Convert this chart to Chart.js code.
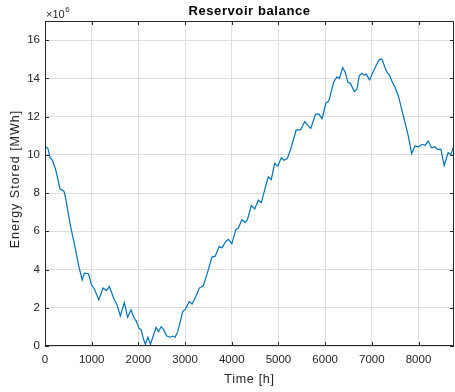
<!DOCTYPE html>
<html>
<head>
<meta charset="utf-8">
<script src="https://cdn.jsdelivr.net/npm/chart.js@4.4.1/dist/chart.umd.min.js"></script>
<style>
  html, body { margin: 0; padding: 0; background: #ffffff; }
  #wrap { width: 455px; height: 392px; }
</style>
</head>
<body>
<div id="wrap"><canvas id="c" width="455" height="392"></canvas></div>
<script>
// Hourly reservoir simulation, sampled at the turning points of the curve
const hours = [
  0, 40, 64, 107, 156, 228, 277, 320, 405, 441, 548, 654, 725, 796, 846, 932, 995,
  1060, 1151, 1244, 1315, 1379, 1471, 1542, 1613, 1699, 1770, 1841, 1912, 1955,
  2012, 2061, 2111, 2150, 2203, 2260, 2320, 2381, 2431, 2488, 2537, 2608, 2680,
  2736, 2787, 2843, 2900, 2950, 3006, 3092, 3150, 3234, 3305, 3390, 3482, 3576,
  3646, 3731, 3789, 3874, 3930, 4002, 4087, 4143, 4215, 4286, 4335, 4420, 4492,
  4569, 4633, 4727, 4783, 4847, 4919, 4989, 5060, 5117, 5188, 5260, 5380, 5473,
  5565, 5636, 5693, 5793, 5864, 5934, 6019, 6077, 6183, 6254, 6305, 6375, 6432,
  6489, 6539, 6624, 6681, 6731, 6787, 6838, 6880, 6951, 7036, 7107, 7158, 7214,
  7271, 7320, 7377, 7426, 7498, 7569, 7640, 7711, 7782, 7853, 7925, 7996, 8081,
  8138, 8209, 8280, 8351, 8408, 8479, 8550, 8635, 8692, 8760
];

// Stored energy in units of 10^6 MWh
const energy = [
  10.42, 10.38, 10.32, 9.85, 9.72, 9.23, 8.71, 8.22, 8.10, 7.75, 6.26, 5.04, 4.16, 3.46, 3.81, 3.78, 3.20,
  2.97, 2.41, 3.03, 2.90, 3.11, 2.50, 2.15, 1.57, 2.27, 1.50, 1.89, 1.45, 1.30,
  0.93, 0.84, 0.35, 0.08, 0.46, 0.09, 0.55, 0.98, 0.75, 1.01, 0.87, 0.52, 0.46,
  0.52, 0.46, 0.75, 1.30, 1.80, 1.93, 2.32, 2.20, 2.60, 3.03, 3.15, 3.85, 4.65,
  4.70, 5.21, 5.13, 5.47, 5.58, 5.35, 6.09, 6.17, 6.61, 6.47, 6.61, 7.35, 7.17,
  7.62, 7.49, 8.36, 8.85, 8.71, 9.55, 9.41, 9.85, 9.72, 9.80, 10.28, 11.30, 11.30,
  11.74, 11.51, 11.38, 12.12, 12.14, 11.89, 12.73, 12.80, 13.81, 14.08, 13.99, 14.57, 14.31,
  13.78, 13.75, 13.31, 13.43, 14.13, 14.27, 14.17, 14.22, 13.92, 14.39, 14.74, 14.97, 15.01,
  14.65, 14.34, 14.17, 13.87, 13.52, 13.08, 12.38, 11.68, 10.98, 10.07, 10.46, 10.42, 10.55,
  10.49, 10.72, 10.37, 10.42, 10.28, 10.28, 9.44, 10.11, 10.02, 10.46
];

const xTicks = [0, 1000, 2000, 3000, 4000, 5000, 6000, 7000, 8000];
const yTicks = [0, 2, 4, 6, 8, 10, 12, 14, 16];

const titleText = 'Reservoir balance';
const xLabel = 'Time [h]';
const yLabel = 'Energy Stored [MWh]';
const expBase = '\u00d710';
const expPower = '6';

const FONT = '"Liberation Sans", Arial, Helvetica, sans-serif';
const AXIS = '#262626';
const GRID = '#dfdfdf';
const LINE = '#0072BD';
const TICK_LEN = 4;

// Box around the axes with inward ticks, plus title and axis labels
const axesDecor = {
  id: 'axesDecor',
  afterDatasetsDraw(chart) {
    const { ctx, chartArea: a, scales } = chart;
    ctx.save();
    ctx.strokeStyle = AXIS;
    ctx.lineWidth = 1;
    ctx.beginPath();
    ctx.rect(a.left + 0.5, a.top + 0.5, a.right - a.left - 1, a.bottom - a.top - 1);
    xTicks.forEach(v => {
      const px = Math.round(scales.x.getPixelForValue(v)) + 0.5;
      ctx.moveTo(px, a.bottom); ctx.lineTo(px, a.bottom - TICK_LEN);
      ctx.moveTo(px, a.top); ctx.lineTo(px, a.top + TICK_LEN);
    });
    yTicks.forEach(v => {
      const py = Math.round(scales.y.getPixelForValue(v)) + 0.5;
      ctx.moveTo(a.left, py); ctx.lineTo(a.left + TICK_LEN, py);
      ctx.moveTo(a.right, py); ctx.lineTo(a.right - TICK_LEN, py);
    });
    ctx.stroke();

    const cx = (a.left + a.right) / 2;

    ctx.fillStyle = '#000000';
    ctx.font = 'bold 13px ' + FONT;
    ctx.letterSpacing = '0.6px';
    ctx.textAlign = 'center';
    ctx.textBaseline = 'alphabetic';
    ctx.fillText(titleText, cx, 15);

    ctx.fillStyle = AXIS;
    ctx.font = '12.5px ' + FONT;
    ctx.letterSpacing = '0.7px';
    ctx.fillText(xLabel, cx, 383);

    ctx.letterSpacing = '0px';
    ctx.textAlign = 'left';
    ctx.font = '11px ' + FONT;
    ctx.fillText(expBase, a.left + 1, 18);
    const w = ctx.measureText(expBase).width;
    ctx.font = '8px ' + FONT;
    ctx.fillText(expPower, a.left + 1 + w + 0.5, 12);

    ctx.translate(16, 179);
    ctx.rotate(-Math.PI / 2);
    ctx.textAlign = 'center';
    ctx.textBaseline = 'middle';
    ctx.font = '12.5px ' + FONT;
    ctx.letterSpacing = '1px';
    ctx.fillText(yLabel, 0, 0);
    ctx.restore();
  }
};

new Chart(document.getElementById('c'), {
  type: 'line',
  data: {
    datasets: [{
      data: hours.map((h, i) => ({ x: h, y: energy[i] })),
      borderColor: LINE,
      borderWidth: 1.2,
      pointRadius: 0,
      tension: 0,
      fill: false
    }]
  },
  options: {
    responsive: false,
    animation: false,
    devicePixelRatio: 1,
    layout: { padding: { top: 21, right: 1, left: 0, bottom: 0 } },
    plugins: {
      legend: { display: false },
      title: { display: false },
      tooltip: { enabled: false }
    },
    scales: {
      x: {
        type: 'linear',
        min: 0,
        max: 8760,
        afterBuildTicks: s => { s.ticks = xTicks.map(v => ({ value: v })); },
        afterFit: s => { s.height = 46; },
        ticks: {
          padding: 7,
          color: AXIS,
          autoSkip: false,
          maxRotation: 0,
          font: { family: FONT, size: 11.5 },
          callback: v => String(v)
        },
        grid: { color: GRID, drawTicks: false },
        border: { display: false }
      },
      y: {
        type: 'linear',
        min: 0,
        max: 17,
        afterBuildTicks: s => { s.ticks = yTicks.map(v => ({ value: v })); },
        afterFit: s => { s.width = 45; },
        ticks: {
          padding: 5,
          color: AXIS,
          font: { family: FONT, size: 11.5 },
          callback: v => String(v)
        },
        grid: { color: GRID, drawTicks: false },
        border: { display: false }
      }
    }
  },
  plugins: [axesDecor]
});
</script>
</body>
</html>
